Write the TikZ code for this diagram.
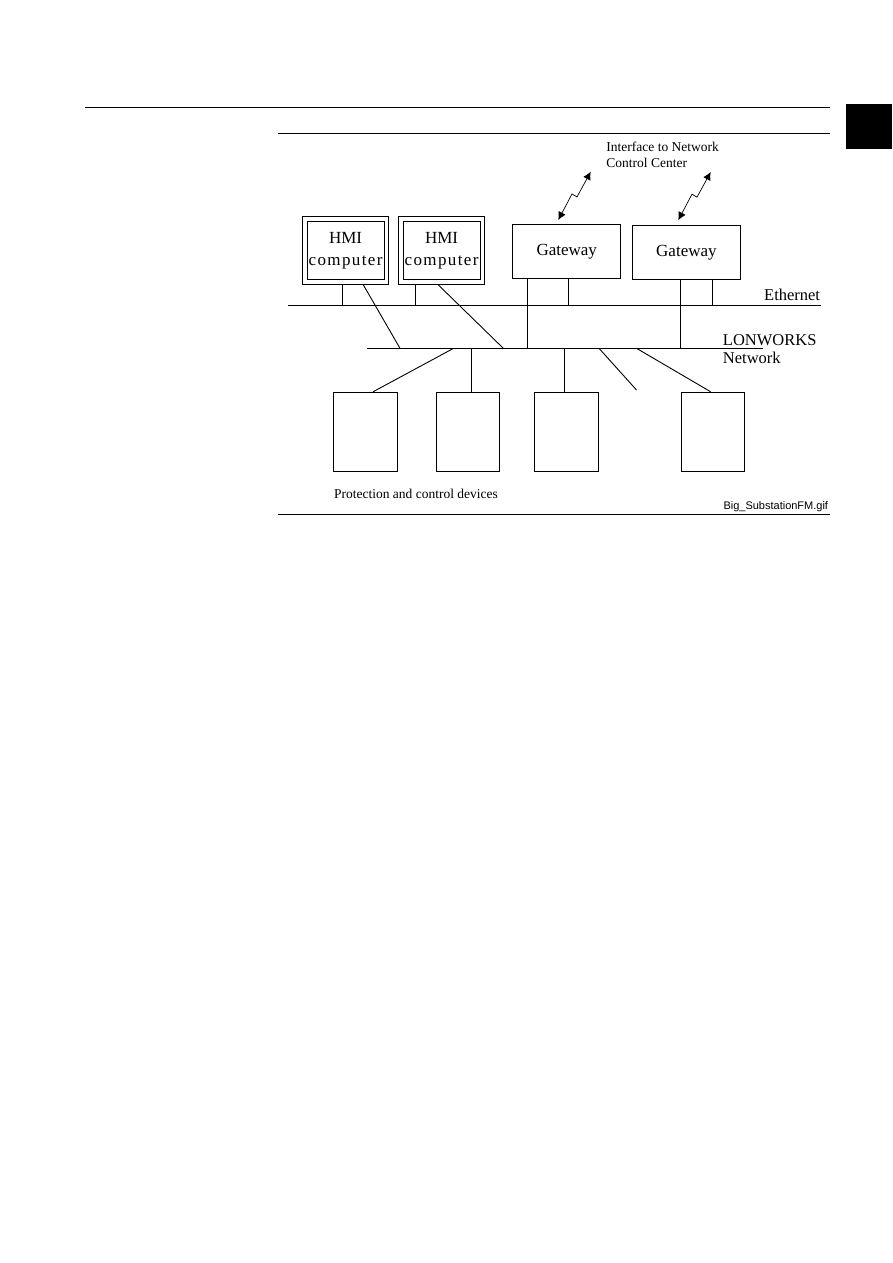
\documentclass[tikz,border=0pt]{standalone}
\usepackage{fontspec}
\setmainfont{Liberation Serif}
\newfontfamily\arialfont{Liberation Sans}
\newfontfamily\spacedfont[LetterSpace=8]{Liberation Serif}
\usetikzlibrary{positioning,arrows.meta,calc,fit}

\begin{document}
\begin{tikzpicture}[x=1pt,y=-1pt,line width=0.9pt,
  >={Latex[length=8pt,width=8pt]},
  hmibox/.style={draw,minimum width=76.7pt,minimum height=58.4pt,align=center,inner sep=0pt,font=\fontsize{17}{22}\selectfont},
  frame/.style={draw,inner sep=4.4pt},
  gwbox/.style={draw,minimum width=108pt,minimum height=54pt,inner sep=0pt,font=\fontsize{17}{20}\selectfont},
  devbox/.style={draw,minimum width=63.5pt,minimum height=79.5pt,inner sep=0pt},
  lbl/.style={inner sep=0pt,font=\fontsize{16.5}{19}\selectfont},
  small/.style={inner sep=0pt,font=\fontsize{13.5}{16}\selectfont},
  bolt/.style={<->,line width=0.7pt}]
\useasboundingbox (0,0) rectangle (893,1263);

% page rules and tab
\draw (85,107) -- (830,107);
\draw (278,133) -- (830,133);
\draw (278,514) -- (830,514);
\fill (846,104) rectangle (892,149);

% buses
\coordinate (ethL) at (288,305.7);
\coordinate (ethR) at (820.7,305.7);
\coordinate (lonL) at (367.3,348.3);
\coordinate (lonR) at (763,348.3);
\draw (ethL) -- (ethR);
\draw (lonL) -- (lonR);
\node[lbl,anchor=base east] (ethLbl) at (820.5,300) {Ethernet};
\node[lbl,anchor=base west] (lonLbl) at (722.5,345) {LONWORKS};
\node[lbl,anchor=base west] (netLbl) at (722.5,363) {Network};

% computers and gateways
\node[hmibox] (hmiA) at (345.6,250.5) {HMI\\{\spacedfont computer}};
\node[hmibox] (hmiB) at (441.6,250.5) {HMI\\{\spacedfont computer}};
\node[frame,fit=(hmiA)] (hmiAo) {};
\node[frame,fit=(hmiB)] (hmiBo) {};
\node[gwbox] (gwA) at (566.7,251.7) {Gateway};
\node[gwbox] (gwB) at (686.4,252.6) {Gateway};

\coordinate (hA1) at ([xshift=-2.8pt]hmiAo.south);
\coordinate (hA2) at ([xshift=17.8pt]hmiAo.south);
\coordinate (hB1) at ([xshift=-26.5pt]hmiBo.south);
\coordinate (hB2) at ([xshift=-3.2pt]hmiBo.south);
\draw (hA1) -- (hA1 |- ethL);
\draw (hB1) -- (hB1 |- ethL);
\draw (hA2) -- (400,348.3);
\draw (hB2) -- (503.3,348.3);

\coordinate (gA1) at ([xshift=-39pt]gwA.south);
\coordinate (gA2) at ([xshift=1.6pt]gwA.south);
\coordinate (gB1) at ([xshift=-6.4pt]gwB.south);
\coordinate (gB2) at ([xshift=26.3pt]gwB.south);
\draw (gA1) -- (gA1 |- lonL);
\draw (gA2) -- (gA2 |- ethL);
\draw (gB1) -- (gB1 |- lonL);
\draw (gB2) -- (gB2 |- ethL);

% links to the control center
\node[small,anchor=base west] (ifLbl) at (606,151.7) {Interface to Network};
\node[small,anchor=base west] (ccLbl) at (606,167.3) {Control Center};
\coordinate (ncA) at (590.7,171.7);
\coordinate (ncB) at (710.7,172);
\draw[bolt] ([shift={(-8.4,-4.3)}]gwA.north) -- ++(13.7,-26) -- ++(5,3) -- (ncA);
\draw[bolt] ([shift={(-8.1,-5)}]gwB.north) -- ++(13.7,-26) -- ++(5,3) -- (ncB);

% protection and control devices
\node[devbox] (devA) at (365.5,432) {};
\node[devbox] (devB) at (468,432) {};
\node[devbox] (devC) at (566.2,432) {};
\node[devbox] (devD) at (713,432) {};
\coordinate (open) at (636.5,390);
\draw ([xshift=7.5pt]devA.north) -- (453.6,348.3);
\draw ([xshift=3pt]devB.north) -- ++(0,-43.7);
\draw ([xshift=-1.7pt]devC.north) -- ++(0,-43.7);
\draw (599,348.3) -- (open);
\draw (636.5,348.3) -- ([xshift=-2.3pt]devD.north);

\node[small,anchor=base west] (devLbl) at (333.6,498) {Protection and control devices};
\node[inner sep=0pt,anchor=base east,font=\arialfont\fontsize{11}{13}\selectfont] (fileLbl) at (828.5,509.5) {Big\_SubstationFM.gif};
\end{tikzpicture}
\end{document}
